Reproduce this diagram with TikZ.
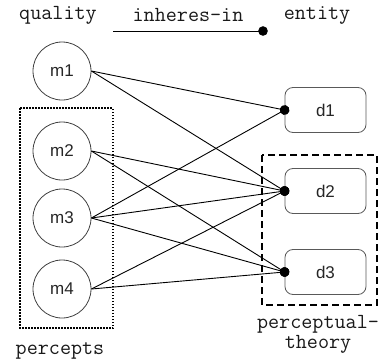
\documentclass[tikz,border=0pt]{standalone}
\usepackage{fontspec}
\setmainfont{Liberation Sans}
\usetikzlibrary{arrows.meta}

\begin{document}
\begin{tikzpicture}
[x=1pt,y=-1pt,->,>={Circle[length=9.5pt]},shorten >=-4.75pt,line width=0.9pt]
\tikzstyle{quality}=[circle,draw=black!75,line width=0.8pt,minimum size=58pt,inner sep=0pt,text=black!85,font=\fontsize{17}{20}\selectfont]
\tikzstyle{entity}=[draw=black!65,line width=0.8pt,rounded corners=8pt,minimum width=81pt,minimum height=45pt,text=black!85,font=\fontsize{17}{20}\selectfont]
\tikzstyle{label}=[text=black!90,font=\ttfamily\fontsize{21.5}{20}\selectfont]
\useasboundingbox (0,0) rectangle (389,362);

% legend
\node[label] (ql) at (58,15) {quality};
\node[label] (in) at (188,15) {inheres-in};
\node[label] (en) at (317,15) {entity};
\coordinate (ls) at (113,31);
\coordinate (le) at (263,31);
\draw (ls) -- (le);

% qualities
\node[quality] (m1) at (62,71) {m1};
\node[quality] (m2) at (62,151) {m2};
\node[quality] (m3) at (62,218) {m3};
\node[quality] (m4) at (62,289) {m4};

% entities
\node[entity] (d1) at (325.5,110) {d1};
\node[entity] (d2) at (325.5,191) {d2};
\node[entity] (d3) at (325.5,272) {d3};

% groups
\draw[-,line width=2pt,dash pattern=on 1.5pt off 1.5pt] (20,108) rectangle (113,328);
\node[label] (pc) at (60,351) {percepts};
\draw[-,line width=2.4pt,dash pattern=on 7pt off 4pt] (262,155) rectangle (377,305);
\node[label,align=center] (pt) at (318,334) {perceptual-\\theory};

\path
(m1.east) edge (d1.west)
(m1.east) edge (d2.west)
(m2.east) edge (d2.west)
(m2.east) edge (d3.west)
(m3.east) edge (d1.west)
(m3.east) edge (d2.west)
(m3.east) edge (d3.west)
(m4.east) edge (d2.west)
(m4.east) edge (d3.west)
;\end{tikzpicture}
\end{document}
